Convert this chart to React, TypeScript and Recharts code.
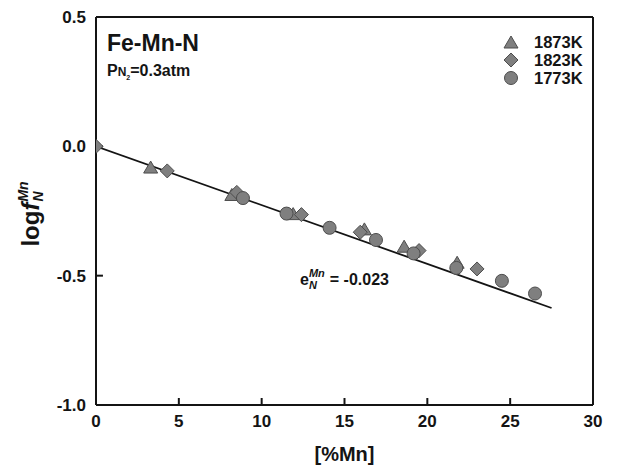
import React from 'react'
import {
    ScatterChart,
    Scatter,
    XAxis,
    YAxis,
    ReferenceLine,
} from 'recharts'

// [%Mn] vs log f_N^Mn
const mn1873 = [3.3, 8.2, 11.9, 16.2, 18.6, 21.8]
const log1873 = [-0.084, -0.19, -0.264, -0.323, -0.39, -0.452]

const mn1823 = [0, 4.3, 8.5, 12.4, 15.95, 19.5, 23.0]
const log1823 = [0, -0.095, -0.178, -0.264, -0.332, -0.403, -0.474]

const mn1773 = [8.87, 11.5, 14.1, 16.9, 19.17, 21.75, 24.5, 26.5]
const log1773 = [-0.2, -0.26, -0.315, -0.362, -0.414, -0.47, -0.52, -0.569]

// fitted line, slope e_N^Mn = -0.023
const fitX = [0, 27.5]
const fitY = [0, -0.625]

const xTicks = [0, 5, 10, 15, 20, 25, 30]
const yTicks = [0.5, 0, -0.5, -1.0]
const X_MIN = 0
const X_MAX = 30
const Y_MIN = -1
const Y_MAX = 0.5

const toPoints = (xs: number[], ys: number[]) => xs.map((x, i) => ({ x, y: ys[i] }))

const FILL = '#7f7f7f'
const EDGE = '#4d4d4d'
const INK = '#141414'
const FONT = '"Liberation Sans", Arial, sans-serif'

// inward tick length, ~7px in each axis' units
const X_TICK_LEN = (Y_MAX - Y_MIN) * 0.018
const Y_TICK_LEN = (X_MAX - X_MIN) * 0.014

const Triangle = ({ cx, cy }: any) => (
    <polygon
        points={`${cx},${cy - 7} ${cx + 7},${cy + 5} ${cx - 7},${cy + 5}`}
        fill={FILL}
        stroke={EDGE}
        strokeWidth={1}
    />
)

const Diamond = ({ cx, cy }: any) => (
    <polygon
        points={`${cx},${cy - 7} ${cx + 7},${cy} ${cx},${cy + 7} ${cx - 7},${cy}`}
        fill={FILL}
        stroke={EDGE}
        strokeWidth={1}
    />
)

const Circle = ({ cx, cy }: any) => (
    <circle cx={cx} cy={cy} r={6.5} fill={FILL} stroke={EDGE} strokeWidth={1} />
)

const tickFont = { fill: INK, fontSize: 17, fontWeight: 700, fontFamily: FONT }

function LegendRow({ label, marker }: { label: string; marker: React.ReactNode }) {
    return (
        <div style={{ display: 'flex', alignItems: 'center', height: 18 }}>
            <svg width={20} height={18} style={{ marginRight: 13 }}>
                {marker}
            </svg>
            <span>{label}</span>
        </div>
    )
}

export default function App() {
    return (
        <div
            style={{
                position: 'absolute',
                left: 0,
                top: 0,
                width: 631,
                height: 466,
                background: '#fff',
                fontFamily: FONT,
                color: INK,
            }}
        >
            <ScatterChart width={631} height={466} margin={{ top: 17, right: 38, bottom: 0, left: 0 }}>
                <XAxis
                    type="number"
                    dataKey="x"
                    domain={[X_MIN, X_MAX]}
                    ticks={xTicks}
                    height={61}
                    allowDataOverflow
                    axisLine={{ stroke: INK, strokeWidth: 2 }}
                    tickLine={false}
                    tickMargin={4}
                    tick={tickFont}
                    label={{
                        value: '[%Mn]',
                        position: 'insideBottom',
                        offset: 5,
                        style: { fill: INK, fontSize: 20, fontWeight: 700, fontFamily: FONT },
                    }}
                />
                <YAxis
                    type="number"
                    dataKey="y"
                    domain={[Y_MIN, Y_MAX]}
                    ticks={yTicks}
                    width={96}
                    allowDataOverflow
                    axisLine={{ stroke: INK, strokeWidth: 2 }}
                    tickLine={false}
                    tickMargin={4}
                    tick={tickFont}
                    tickFormatter={(v: number) => v.toFixed(1)}
                />
                <ReferenceLine y={Y_MAX} stroke={INK} strokeWidth={2} />
                <ReferenceLine x={X_MAX} stroke={INK} strokeWidth={2} />
                {xTicks.slice(1, -1).map((t) => (
                    <ReferenceLine
                        key={`xt-${t}`}
                        segment={[{ x: t, y: Y_MIN }, { x: t, y: Y_MIN + X_TICK_LEN }]}
                        stroke={INK}
                        strokeWidth={2}
                    />
                ))}
                {yTicks.slice(1, -1).map((t) => (
                    <ReferenceLine
                        key={`yt-${t}`}
                        segment={[{ x: X_MIN, y: t }, { x: X_MIN + Y_TICK_LEN, y: t }]}
                        stroke={INK}
                        strokeWidth={2}
                    />
                ))}
                <Scatter
                    data={toPoints(fitX, fitY)}
                    line={{ stroke: INK, strokeWidth: 1.8 }}
                    shape={() => null}
                    isAnimationActive={false}
                />
                <Scatter data={toPoints(mn1873, log1873)} shape={Triangle} isAnimationActive={false} />
                <Scatter data={toPoints(mn1823, log1823)} shape={Diamond} isAnimationActive={false} />
                <Scatter data={toPoints(mn1773, log1773)} shape={Circle} isAnimationActive={false} />
            </ScatterChart>

            {/* y axis title */}
            <div
                style={{
                    position: 'absolute',
                    left: 31,
                    top: 214,
                    transform: 'translate(-50%, -50%) rotate(-90deg)',
                    fontSize: 24,
                    fontWeight: 700,
                    whiteSpace: 'nowrap',
                    display: 'flex',
                    alignItems: 'center',
                }}
            >
                <span>log</span>
                <i>f</i>
                <span style={{ display: 'inline-flex', flexDirection: 'column', lineHeight: 1.05, marginLeft: 1 }}>
                    <i style={{ fontSize: 14 }}>Mn</i>
                    <i style={{ fontSize: 14 }}>N</i>
                </span>
            </div>

            {/* labels in the plot */}
            <div style={{ position: 'absolute', left: 107, top: 30, fontSize: 23, fontWeight: 700 }}>Fe-Mn-N</div>
            <div style={{ position: 'absolute', left: 107, top: 62, fontSize: 16, fontWeight: 700 }}>
                P<span style={{ fontSize: 12 }}>N</span>
                <sub style={{ fontSize: 7 }}>2</sub>=0.3atm
            </div>
            <div
                style={{
                    position: 'absolute',
                    left: 300,
                    top: 268,
                    fontSize: 16,
                    fontWeight: 700,
                    whiteSpace: 'nowrap',
                    display: 'flex',
                    alignItems: 'center',
                }}
            >
                <span>e</span>
                <span style={{ display: 'inline-flex', flexDirection: 'column', lineHeight: 1.05, marginRight: 5 }}>
                    <i style={{ fontSize: 11 }}>Mn</i>
                    <i style={{ fontSize: 11 }}>N</i>
                </span>
                <span>= -0.023</span>
            </div>

            {/* legend */}
            <div style={{ position: 'absolute', left: 501, top: 33, fontSize: 16.5, fontWeight: 700 }}>
                <LegendRow label="1873K" marker={<Triangle cx={10} cy={10} />} />
                <LegendRow label="1823K" marker={<Diamond cx={10} cy={9} />} />
                <LegendRow label="1773K" marker={<Circle cx={10} cy={9} />} />
            </div>
        </div>
    )
}
